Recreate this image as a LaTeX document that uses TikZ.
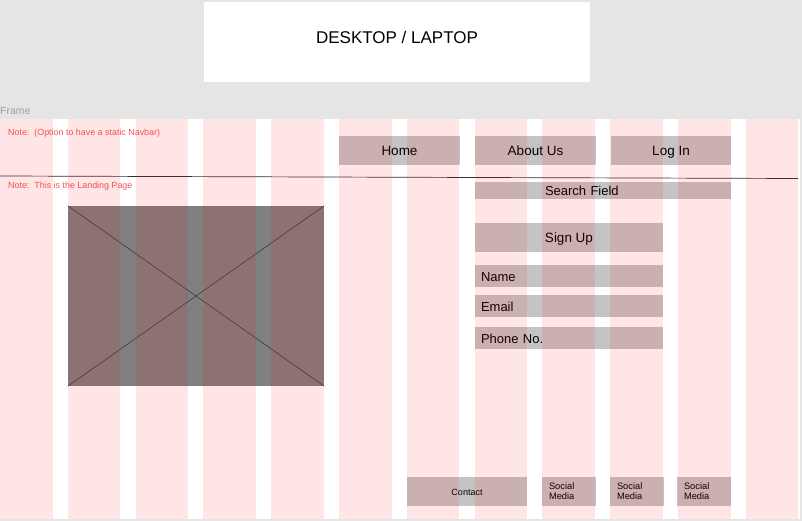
\documentclass[tikz,border=0pt]{standalone}
\usepackage{fontspec}
\setmainfont{Liberation Sans}
\usetikzlibrary{positioning}
\definecolor{canvas}{HTML}{E5E5E5}
\definecolor{boxgray}{HTML}{C4C4C4}
\definecolor{imggray}{HTML}{808080}
\definecolor{notered}{HTML}{F05A5A}
\definecolor{framelabel}{HTML}{A0A0A0}
\begin{document}
\begin{tikzpicture}[x=1pt, y=-1pt,
        box/.style={fill=boxgray, inner sep=0pt, text height=11pt, text depth=0.5pt, font=\fontsize{13.5}{16}\selectfont},
        navbox/.style={box, minimum width=121pt, minimum height=29pt},
        field/.style={box, text width=176pt, inner xsep=6pt, align=left, minimum height=22pt, font=\fontsize{13}{15}\selectfont},
        footbox/.style={box, minimum height=29pt, text height=7.8pt, text depth=0.4pt, font=\fontsize{9}{10}\selectfont},
        social/.style={footbox, text width=40pt, inner xsep=7pt, align=left, text height=, text depth=, font=\fontsize{9.3}{10}\selectfont},
        note/.style={anchor=west, inner sep=0pt, text=notered, font=\fontsize{8.9}{10}\selectfont}]
        \def \colw {52.5}
        \def \pitch {67.8}
        \fill[canvas] (0,0) rectangle (802,521);
        \useasboundingbox (0,0) rectangle (802,521);
        % heading
        \node[fill=white, minimum width=386pt, minimum height=80pt, text depth=10pt, font=\fontsize{17}{20}\selectfont] (title) at (397,42) {DESKTOP / LAPTOP};
        % frame
        \fill[white] (0,119) rectangle (800,519);
        \node[anchor=west, inner sep=0pt, text=framelabel, font=\fontsize{10.5}{12}\selectfont] (framename) at (0,111) {Frame};
        \node[note] (navnote) at (8,133) {Note:\ \ (Option to have a static Navbar)};
        \node[note] (landnote) at (8,186) {Note:\ \ This is the Landing Page};
        % navbar
        \node[navbox] (home) at (399.5,150.5) {Home};
        \node[navbox] (about) at (535.5,150.5) {About Us};
        \node[navbox, minimum width=120pt] (login) at (671,150.5) {Log In};
        \coordinate (ruleleft) at (0,176);
        \coordinate (ruleright) at (798,178.5);
        \draw[black!80, line width=0.7pt] (ruleleft) -- (ruleright);
        % hero image
        \node[fill=imggray, minimum width=256pt, minimum height=180pt, inner sep=0pt] (hero) at (196,296) {};
        \draw[black!85] (hero.north west) -- (hero.south east);
        \draw[black!85] (hero.north east) -- (hero.south west);
        % sign up form
        \node[box, text width=256pt, align=left, minimum height=17pt, font=\fontsize{13}{15}\selectfont] (search) at (603,190.5) {\hspace*{70pt}Search Field};
        \node[box, minimum width=188pt, minimum height=29pt] (signup) at (569,237.5) {Sign Up};
        \node[field] (name) at (569,276) {Name};
        \node[field] (email) at (569,306) {Email};
        \node[field] (phone) at (569,338) {Phone No.};
        % footer
        \node[footbox, minimum width=120pt] (contact) at (467,491.5) {Contact};
        \node[social] (social1) at (569,491.5) {Social\\Media};
        \node[social] (social2) at (637,491.5) {Social\\Media};
        \node[social] (social3) at (704,491.5) {Social\\Media};
        % layout grid
        \foreach \i in {0,...,11}
            \fill[red, opacity=0.1] (\i*\pitch,119) rectangle ++(\colw,400);
    \end{tikzpicture}
\end{document}
